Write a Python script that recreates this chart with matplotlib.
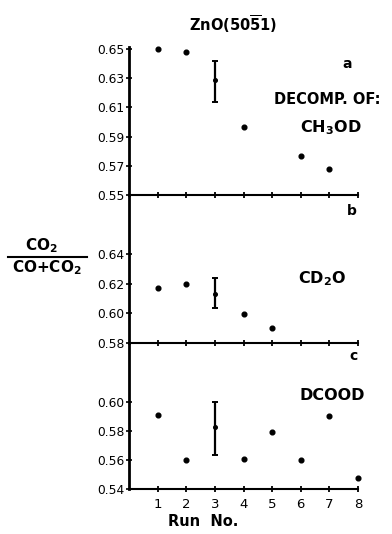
import matplotlib
matplotlib.use("Agg")
import matplotlib.pyplot as plt
from matplotlib.lines import Line2D

plt.rcParams["mathtext.fontset"] = "dejavusans"

# ---- data ----
runs_a = [1, 2, 3, 4, 6, 7]
vals_a = [0.650, 0.648, 0.6286, 0.5966, 0.5765, 0.5678]
err_a_run = 3
err_a_lo, err_a_hi = 0.6137, 0.6418

runs_b = [1, 2, 3, 4, 5]
vals_b = [0.6169, 0.6198, 0.6132, 0.5998, 0.5903]
err_b_run = 3
err_b_lo, err_b_hi = 0.6038, 0.6240

runs_c = [1, 2, 3, 4, 5, 6, 7, 8]
vals_c = [0.591, 0.5602, 0.5826, 0.5605, 0.5795, 0.5598, 0.5903, 0.5476]
err_c_run = 3
err_c_lo, err_c_hi = 0.5637, 0.5998

ticks_a = [0.55, 0.57, 0.59, 0.61, 0.63, 0.65]
ticks_b = [0.58, 0.60, 0.62, 0.64]
ticks_c = [0.54, 0.56, 0.58, 0.60]
run_ticks = [1, 2, 3, 4, 5, 6, 7, 8]

W, H = 392, 534
fig = plt.figure(figsize=(W / 100, H / 100), dpi=100)
fig.patch.set_facecolor("white")

x0 = 129 / W
x1 = 358 / W

def fy(py):
    return 1 - py / H

panels = [
    (47, 195, (0.55, 0.55 + 148 / 1460), ticks_a, runs_a, vals_a, (err_a_run, err_a_lo, err_a_hi, vals_a[2])),
    (195, 343, (0.58, 0.58 + 148 / 1483), ticks_b, runs_b, vals_b, (err_b_run, err_b_lo, err_b_hi, vals_b[2])),
    (343, 489, (0.54, 0.54 + 146 / 1450), ticks_c, runs_c, vals_c, (err_c_run, err_c_lo, err_c_hi, vals_c[2])),
]

tickfont = dict(family="DejaVu Sans", size=8.8)
axes = []
for i, (top, bot, ylim, ticks, runs, vals, err) in enumerate(panels):
    ax = fig.add_axes([x0, fy(bot), x1 - x0, (bot - top) / H])
    ax.set_xlim(0, 8)
    ax.set_ylim(*ylim)
    ax.patch.set_visible(False)
    for s in ["top", "right"]:
        ax.spines[s].set_visible(False)
    ax.spines["left"].set_linewidth(2.0)
    ax.spines["bottom"].set_linewidth(1.5)
    ax.set_yticks(ticks)
    ax.set_yticklabels([f"{t:.2f}" for t in ticks], fontdict=tickfont)
    ax.set_xticks(run_ticks)
    ax.tick_params(axis="y", direction="inout", length=4, width=1.2, pad=1)
    ax.tick_params(axis="x", direction="inout", length=5, width=1.3, pad=4)
    if i < 2:
        ax.set_xticklabels([])
    else:
        ax.set_xticklabels([str(r) for r in run_ticks], fontdict=dict(family="DejaVu Sans", size=9.5))
    rx = [r for r in runs if r != err[0]]
    vy = [v for r, v in zip(runs, vals) if r != err[0]]
    ax.plot(rx, vy, "o", color="black", markersize=3.4, clip_on=False)
    r, lo, hi, c = err
    ax.errorbar([r], [c], yerr=[[c - lo], [hi - c]], fmt="o", color="black",
                markersize=2.6, elinewidth=1.6, capsize=2.5, capthick=1.4, clip_on=False)
    axes.append(ax)

bold = dict(family="DejaVu Sans", weight="bold", color="black")
fig.text(233 / W, fy(24), r"ZnO(50$\overline{\mathbf{5}}$1)", ha="center", va="center", fontsize=10.5, **bold)
fig.text(347 / W, fy(64), "a", ha="center", va="center", fontsize=10, **bold)
fig.text(327 / W, fy(99), "DECOMP. OF:", ha="center", va="center", fontsize=10.5, **bold)
fig.text(331 / W, fy(128), r"CH$_\mathbf{3}$OD", ha="center", va="center", fontsize=11.5, **bold)
fig.text(352 / W, fy(211), "b", ha="center", va="center", fontsize=10, **bold)
fig.text(322 / W, fy(279), r"CD$_\mathbf{2}$O", ha="center", va="center", fontsize=11.5, **bold)
fig.text(353 / W, fy(356), "c", ha="center", va="center", fontsize=10, **bold)
fig.text(332 / W, fy(395), "DCOOD", ha="center", va="center", fontsize=11.5, **bold)
fig.text(203 / W, fy(522), "Run  No.", ha="center", va="center", fontsize=10.5, **bold)

# y label fraction
fig.text(41 / W, fy(246), r"CO$_\mathbf{2}$", ha="center", va="center", fontsize=11, **bold)
fig.text(47 / W, fy(268), r"CO+CO$_\mathbf{2}$", ha="center", va="center", fontsize=11, **bold)
fig.add_artist(Line2D([8 / W, 87 / W], [fy(257), fy(257)], color="black", lw=1.5, transform=fig.transFigure))

fig.savefig("out.png", dpi=100, facecolor="white")
